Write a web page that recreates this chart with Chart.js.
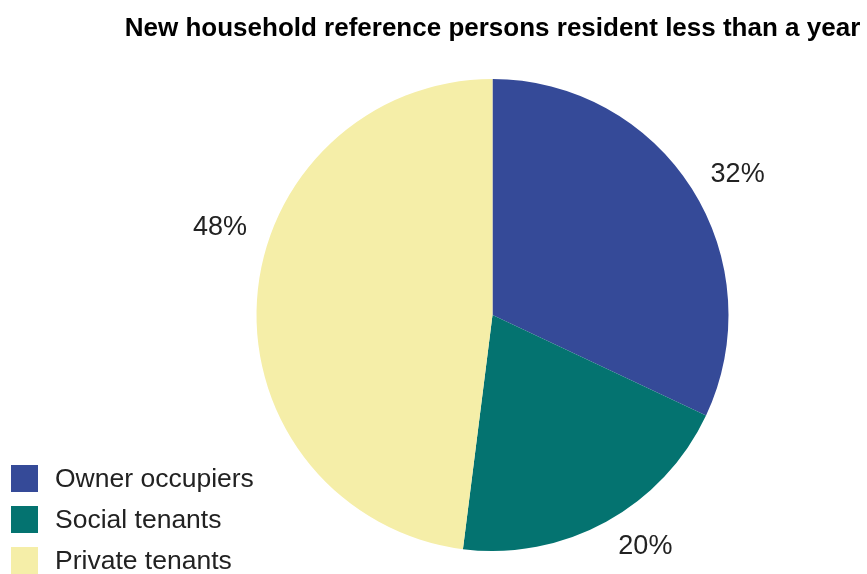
<!DOCTYPE html>
<html>
<head>
<meta charset="utf-8">
<script src="https://cdn.jsdelivr.net/npm/chart.js@4/dist/chart.umd.min.js"></script>
<style>
  html, body { margin: 0; padding: 0; background: #fff; }
  #wrap { position: relative; width: 867px; height: 574px; }
  #legend { position: absolute; left: 11px; top: 465px; font-family: "Liberation Sans", Arial, sans-serif; font-size: 26.5px; color: #222; }
  .row { display: flex; align-items: center; height: 27px; margin-bottom: 14px; }
  .box { width: 27px; height: 27px; margin-right: 17px; }
</style>
</head>
<body>
<div id="wrap">
  <canvas id="c" width="867" height="574"></canvas>
  <div id="legend"></div>
</div>
<script>
const categories = ["Owner occupiers", "Social tenants", "Private tenants"];
const shares = [32, 20, 48];
const colors = ["#354A98", "#047370", "#F5EEA8"];
const chartTitle = "New household reference persons resident less than a year";

const labelPlugin = {
  id: 'sliceLabels',
  afterDatasetsDraw(chart, args, opts) {
    const ctx = chart.ctx;
    const meta = chart.getDatasetMeta(0);
    ctx.save();
    ctx.font = opts.font;
    ctx.fillStyle = opts.color;
    ctx.textAlign = 'center';
    ctx.textBaseline = 'middle';
    meta.data.forEach((arc, i) => {
      const p = arc.getProps(['x', 'y', 'startAngle', 'endAngle', 'outerRadius'], true);
      const mid = (p.startAngle + p.endAngle) / 2;
      const r = p.outerRadius * opts.radiusFactor;
      const off = opts.offsets[i] || [0, 0];
      const x = p.x + Math.cos(mid) * r + off[0];
      const y = p.y + Math.sin(mid) * r + off[1];
      ctx.fillText(chart.data.datasets[0].data[i] + '%', x, y);
    });
    ctx.restore();
  }
};

const chart = new Chart(document.getElementById('c'), {
  type: 'pie',
  data: {
    labels: categories,
    datasets: [{ data: shares, backgroundColor: colors, borderWidth: 0 }]
  },
  options: {
    responsive: false,
    animation: false,
    layout: { padding: { left: 118, right: 0, top: 0, bottom: 23 } },
    plugins: {
      legend: { display: false },
      tooltip: { enabled: false },
      title: {
        display: true,
        text: chartTitle,
        color: '#000',
        font: { family: '"Liberation Sans", Arial, sans-serif', size: 26, weight: 'bold' },
        padding: { top: 13, bottom: 34.8 }
      },
      sliceLabels: {
        font: '27px "Liberation Sans", Arial, sans-serif',
        color: '#222',
        radiusFactor: 1.195,
        offsets: [[7, 11], [17, -16], [9, -70]]
      }
    }
  },
  plugins: [labelPlugin]
});

const legendEl = document.getElementById('legend');
chart.data.labels.forEach((lab, i) => {
  const row = document.createElement('div');
  row.className = 'row';
  const box = document.createElement('div');
  box.className = 'box';
  box.style.background = chart.data.datasets[0].backgroundColor[i];
  const txt = document.createElement('span');
  txt.textContent = lab;
  row.appendChild(box);
  row.appendChild(txt);
  legendEl.appendChild(row);
});
</script>
</body>
</html>
